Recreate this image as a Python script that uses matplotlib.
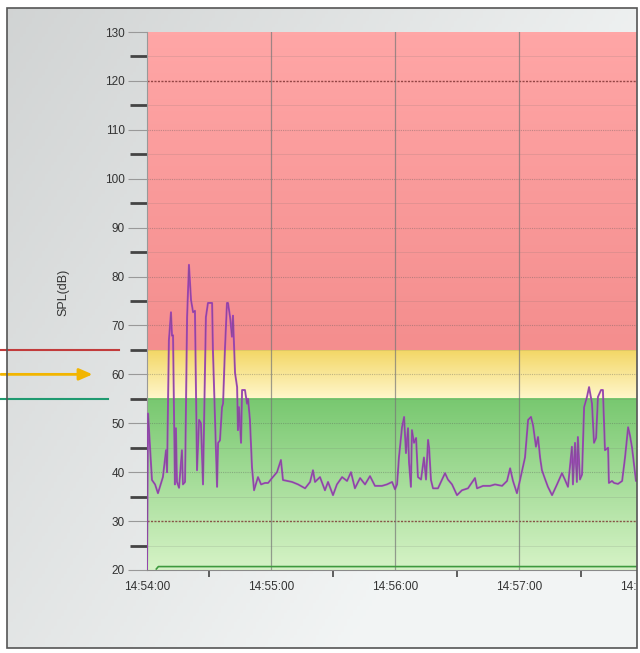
import numpy as np
import matplotlib
matplotlib.use('Agg')
import matplotlib.pyplot as plt
from matplotlib.colors import to_rgb

# level measured over time (seconds after 14:54:00, dB)
t_sec = [0, 0.5, 2.4, 3.9, 5.3, 7.7, 9.2, 9.7, 10.6, 11.6, 12.1, 12.6, 13.5, 14.0, 14.5,
         15.5, 16.9, 17.4, 18.4, 19.4, 20.3, 21.3, 22.3, 23.2, 24.2, 25.2, 26.1, 27.1,
         28.5, 29.5, 31.5, 31.9, 33.9, 34.4, 35.3, 36.3, 36.8, 37.7, 38.7, 39.2, 40.2,
         41.1, 41.6, 42.6, 43.6, 44.0, 44.5, 45.5, 46.0, 47.4, 48.4, 48.9, 49.8, 50.8,
         51.8, 53.7, 55.2, 57.1, 58.6, 60.5, 62.9, 64.8, 65.8, 70.2, 73.1, 76.5, 78.9,
         80.3, 81.3, 83.7, 86.1, 87.6, 90.0, 91.9, 94.4, 96.8, 98.7, 100.6, 103.1,
         105.5, 107.9, 110.3, 113.7, 116.1, 118.6, 120.0, 121.0, 121.9, 123.4, 124.4,
         125.3, 126.3, 126.8, 127.7, 128.2, 129.2, 130.2, 131.1, 132.6, 134.0, 135.0,
         136.0, 136.5, 137.4, 138.4, 140.8, 144.2, 145.6, 147.6, 150.0, 152.4, 155.3,
         158.7, 159.7, 162.6, 166.0, 168.4, 171.8, 174.2, 175.7, 177.1, 179.0, 180.5,
         182.9, 184.4, 185.8, 186.8, 188.2, 189.2, 190.2, 191.1, 192.6, 194.0, 196.0,
         198.4, 200.8, 202.3, 203.7, 205.6, 206.1, 207.1, 208.0, 208.5, 209.5, 210.5,
         211.5, 212.9, 213.9, 215.3, 216.3, 217.3, 218.2, 219.7, 220.6, 221.6, 223.1,
         223.5, 225.0, 226.0, 227.9, 229.9, 231.3, 232.8, 233.7, 234.7, 236.6, 238.0]
spl_db = [20, 52, 38.4, 37.5, 35.7, 39, 44.5, 40, 67, 72.7, 67.9, 68, 37.5, 49, 38,
          36.8, 44.5, 37.5, 38, 71.7, 82.4, 75.2, 72.7, 73, 40.4, 50.7, 50, 37.5,
          71.7, 74.6, 74.6, 65, 37, 46, 46.5, 53.3, 54, 65, 74.6, 74.6, 71.7,
          67.7, 72, 60.3, 57.4, 48.6, 53.3, 46, 56.8, 56.8, 54, 55, 50.7, 41,
          36.3, 39, 37.5, 37.8, 37.8, 38.8, 40, 42.5, 38.4, 38, 37.5, 36.7, 38,
          40.4, 38, 39, 36.3, 38, 35.3, 37.5, 39, 38.2, 40, 36.7, 38.8,
          37.5, 39.2, 37.2, 37.2, 37.5, 38, 36.5, 37.5, 43, 49.2, 51.3,
          43.9, 49, 41.9, 37, 48.6, 46, 47, 39, 38.5, 43, 38.5,
          46.6, 45, 38.4, 36.7, 36.7, 39.8, 38.5, 37.5, 35.3, 36.3, 36.7,
          38.8, 36.7, 37.2, 37.2, 37.5, 37.2, 38.2, 40.8, 38.2, 35.7, 38.4,
          43, 50.7, 51.3, 49.6, 45.2, 47.2, 43, 40.4, 38.6, 37, 35.3,
          37.5, 39.8, 38.4, 37, 45.2, 37.5, 46, 38, 47.2, 38.5, 39.5,
          53.3, 55.4, 57.4, 54.1, 46, 47, 55.4, 56.8, 56.8, 44.5, 45,
          37.8, 38.2, 37.8, 37.6, 38.2, 43, 49.2, 47.5, 45, 38.2, 39]

# second (background) trace near the floor
floor_t = [4.5, 5.5, 240]
floor_db = [20.2, 20.7, 20.7]

# colour zones (low, high, top colour, bottom colour)
zones = [(65, 130, '#ffa6a6', '#f48e8e'),
         (55, 65, '#f3d766', '#fff7cc'),
         (20, 55, '#78c870', '#d6f3c6')]
limit_lines = [120, 30]
limit_markers = [(65, '#c23b3b', 'line'), (60, '#f2b500', 'arrow'), (55, '#1f9a70', 'line')]

tick_sec = [0, 60, 120, 180, 240]
tick_labels = ['14:54:00', '14:55:00', '14:56:00', '14:57:00', '14:58:00']

fig = plt.figure(figsize=(6.4, 6.53), dpi=100, facecolor='white')

# panel background gradient
bg = fig.add_axes([7/640, 1-648/653, 630/640, 640/653], zorder=0)
xx, yy = np.meshgrid(np.linspace(0, 1, 200), np.linspace(0, 1, 200))
v = np.clip(0.83 + 0.11*xx + 0.07*yy, 0, 0.96)
bg.imshow(np.dstack([v - 0.01, v, v]), aspect='auto', extent=(0, 1, 1, 0))
bg.set_axis_off()

ax = fig.add_axes([147/640, 1-570/653, 496/640, 538/653], zorder=1)
ax.set_facecolor('none')

for lo, hi, ctop, cbot in zones:
    c0, c1 = np.array(to_rgb(ctop)), np.array(to_rgb(cbot))
    f = np.linspace(0, 1, 100)[:, None]
    grad = (c0 * (1 - f) + c1 * f)[:, None, :]
    ax.imshow(grad, aspect='auto', extent=(0, 240, lo, hi), zorder=0)

# grid
for y in range(25, 130, 5):
    if y in limit_lines:
        continue
    if y % 10 == 0:
        ax.axhline(y, color='#555555', lw=0.8, ls=(0, (1, 1)), alpha=0.35, zorder=1)
    else:
        ax.axhline(y, color='#666666', lw=0.7, alpha=0.15, zorder=1)
for y in limit_lines:
    ax.axhline(y, color='#7a2e2e', lw=1.0, ls=(0, (1.5, 1)), alpha=0.8, zorder=1)
for t in tick_sec[1:4]:
    ax.axvline(t, color='#777777', lw=0.9, alpha=0.7, zorder=1)

ax.plot(floor_t, floor_db, color='#3d9a3d', lw=1.2, zorder=2)
ax.plot(t_sec, spl_db, color='#a23ec4', lw=1.4, alpha=0.9, zorder=3)
ax.plot(t_sec, spl_db, color='#6a4a70', lw=0.5, alpha=0.6, zorder=3)

ax.set_xlim(0, 240)
ax.set_ylim(20, 130)

ax.set_yticks(range(20, 131, 10))
ax.set_yticks(range(25, 130, 10), minor=True)
ax.set_xticks(tick_sec)
ax.set_xticklabels(tick_labels)
ax.set_xticks([30, 90, 150, 210], minor=True)
ax.tick_params(axis='y', which='major', length=14, width=0.8, color='#999999',
               labelsize=8.5, labelcolor='#333333', pad=2)
ax.tick_params(axis='y', which='minor', length=12, width=2, color='#444444')
ax.tick_params(axis='x', which='major', length=0, labelsize=8.5, labelcolor='#333333', pad=8)
ax.tick_params(axis='x', which='minor', length=5, width=1.2, color='#444444')
for lab in ax.get_xticklabels() + ax.get_yticklabels():
    lab.set_fontfamily('Liberation Sans')

for side in ['top', 'right']:
    ax.spines[side].set_visible(False)
ax.spines['left'].set_color('#999999')
ax.spines['bottom'].set_color('#8a8a8a')

# threshold markers on the left
for level, col, kind in limit_markers:
    if kind == 'arrow':
        ax.annotate('', xy=(-25, level), xytext=(-72, level), xycoords='data',
                    arrowprops=dict(arrowstyle='-|>,head_length=0.8,head_width=0.35',
                                    color=col, lw=2), annotation_clip=False)
    else:
        end = -13.5 if level == 65 else -19
        ax.plot([-72, end], [level, level], color=col, lw=1.5, clip_on=False)

fig.text(63/640, 1-292/653, 'SPL(dB)', rotation=90, ha='center', va='center',
         fontsize=9, color='#333333', family='Liberation Sans')

# cover beyond the panel edge and draw the frame
over = fig.add_axes([0, 0, 1, 1], zorder=5)
over.set_xlim(0, 640)
over.set_ylim(653, 0)
over.set_axis_off()
over.add_patch(plt.Rectangle((637, 0), 10, 653, color='white'))
over.add_patch(plt.Rectangle((7, 8), 630, 640, fill=False, ec='#555555', lw=1.2))

fig.savefig('out.png', dpi=100)
